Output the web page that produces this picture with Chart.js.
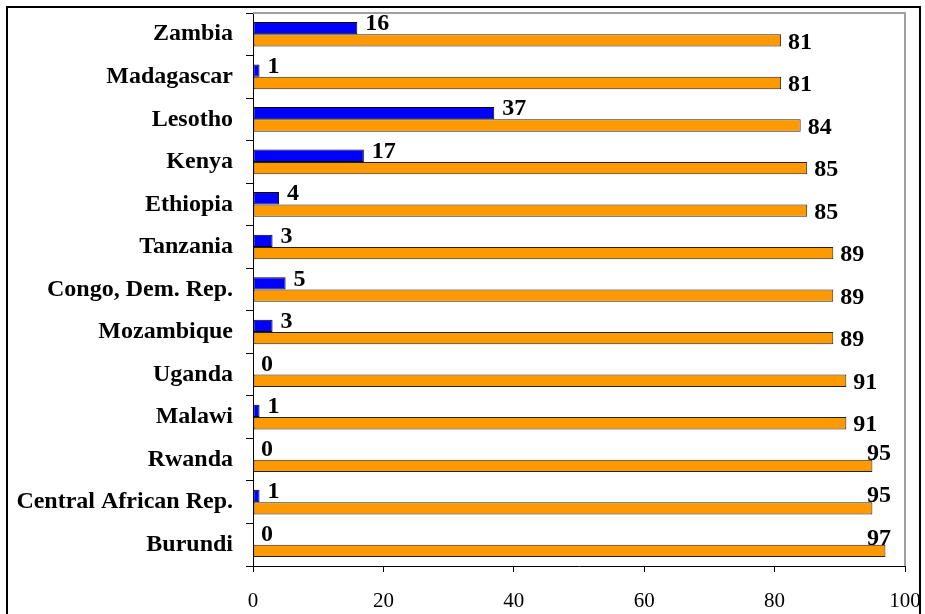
<!DOCTYPE html>
<html>
<head>
<meta charset="utf-8">
<script src="https://cdn.jsdelivr.net/npm/chart.js@4/dist/chart.umd.min.js"></script>
<style>
  html, body { margin: 0; padding: 0; background: #fff; overflow: hidden; }
  #wrap { position: relative; width: 925px; height: 614px; }
  #frame { position: absolute; left: 6px; top: 6px; width: 911px; height: 700px; border: 2px solid #000; box-sizing: content-box; pointer-events: none; }
  canvas { position: absolute; left: 0; top: 0; }
</style>
</head>
<body>
<div id="wrap">
  <canvas id="c" width="925" height="614"></canvas>
  <div id="frame"></div>
</div>
<script>
// Countries, top to bottom
const countries = [
  'Zambia', 'Madagascar', 'Lesotho', 'Kenya', 'Ethiopia', 'Tanzania',
  'Congo, Dem. Rep.', 'Mozambique', 'Uganda', 'Malawi', 'Rwanda',
  'Central African Rep.', 'Burundi'
];
// Blue series
const blueValues = [16, 1, 37, 17, 4, 3, 5, 3, 0, 1, 0, 1, 0];
// Orange series
const orangeValues = [81, 81, 84, 85, 85, 89, 89, 89, 91, 91, 95, 95, 97];
// Value axis ticks
const xTicks = [0, 20, 40, 60, 80, 100];

const SERIF = "'Liberation Serif', 'Times New Roman', serif";

// Value labels drawn next to each bar end
const valueLabels = {
  id: 'valueLabels',
  afterDatasetsDraw(chart) {
    const ctx = chart.ctx;
    const area = chart.chartArea;
    ctx.save();
    ctx.font = 'bold 24px ' + SERIF;
    ctx.fillStyle = '#000';
    ctx.textAlign = 'left';
    ctx.textBaseline = 'alphabetic';
    chart.data.datasets.forEach((ds, di) => {
      const meta = chart.getDatasetMeta(di);
      meta.data.forEach((bar, i) => {
        const txt = String(ds.data[i]);
        const w = ctx.measureText(txt).width;
        const end = bar.x;
        const top = bar.y - bar.height / 2;
        const bottom = bar.y + bar.height / 2;
        let x, y;
        if (di === 0) {
          x = end + 8;
          y = bottom - 4;
        } else {
          x = end + 7;
          y = bottom + 2;
          if (x + w > area.right - 10) {
            x = area.right - 14 - w;
            y = top;
          }
        }
        ctx.fillText(txt, x, y);
      });
    });
    ctx.restore();
  }
};

// Grey plot-area border on the top and right sides
const plotFrame = {
  id: 'plotFrame',
  beforeDatasetsDraw(chart) {
    const { ctx, chartArea: a } = chart;
    ctx.save();
    ctx.strokeStyle = '#a0a0a0';
    ctx.lineWidth = 2;
    ctx.beginPath();
    ctx.moveTo(a.left, a.top);
    ctx.lineTo(a.right, a.top);
    ctx.lineTo(a.right, a.bottom);
    ctx.stroke();
    ctx.restore();
  }
};

new Chart(document.getElementById('c'), {
  type: 'bar',
  data: {
    labels: countries,
    datasets: [
      {
        data: blueValues,
        backgroundColor: '#0000ff',
        borderColor: '#000',
        borderWidth: ctx => (ctx.raw === 0 ? 0 : 1),
        borderSkipped: false,
        categoryPercentage: 0.58,
        barPercentage: 1.0
      },
      {
        data: orangeValues,
        backgroundColor: '#ff9900',
        borderColor: '#222',
        borderWidth: 1,
        borderSkipped: false,
        categoryPercentage: 0.58,
        barPercentage: 1.0
      }
    ]
  },
  options: {
    indexAxis: 'y',
    responsive: false,
    animation: false,
    layout: { padding: { top: 13, right: 20, left: 0, bottom: 0 } },
    plugins: { legend: { display: false }, tooltip: { enabled: false } },
    scales: {
      x: {
        min: xTicks[0],
        max: xTicks[xTicks.length - 1],
        afterBuildTicks(scale) { scale.ticks = xTicks.map(v => ({ value: v })); },
        afterFit(scale) {
          scale.height = 48;
          scale.paddingLeft = 0;
          scale.paddingRight = 0;
        },
        grid: { drawOnChartArea: false, drawTicks: true, tickLength: 6, color: '#000' },
        border: { display: true, color: '#000', width: 1 },
        ticks: { color: '#000', font: { family: SERIF, size: 21 }, padding: 17, maxRotation: 0 }
      },
      y: {
        afterFit(scale) {
          scale.width = 253;
          scale.paddingTop = 0;
          scale.paddingBottom = 0;
        },
        grid: { drawOnChartArea: false, drawTicks: true, tickLength: 7, color: '#000', offset: true },
        border: { display: true, color: '#000', width: 1 },
        ticks: { color: '#000', font: { family: SERIF, size: 24, weight: 'bold' }, padding: 13, autoSkip: false }
      }
    }
  },
  plugins: [plotFrame, valueLabels]
});
</script>
</body>
</html>
